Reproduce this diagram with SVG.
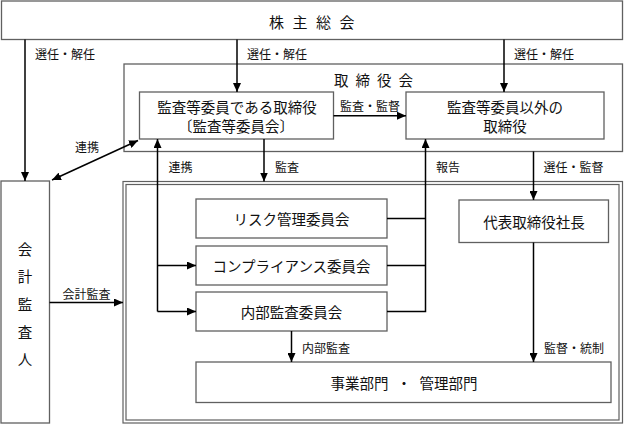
<svg xmlns="http://www.w3.org/2000/svg" width="624" height="424" viewBox="0 0 624 424">
<defs>
<style>
.box{fill:#fff;stroke:#606060;stroke-width:1.3}
.frame{fill:none;stroke:#606060;stroke-width:1.2}
.t{font-family:"Noto Sans CJK JP","Noto Sans CJK SC",sans-serif;font-size:14.5px;fill:#111;text-anchor:middle;dominant-baseline:central}
.s{font-family:"Noto Sans CJK JP","Noto Sans CJK SC",sans-serif;font-size:12px;fill:#111;dominant-baseline:central}
.c{fill:none;stroke:#000;stroke-width:1.5}
.a{marker-end:url(#ah)}
</style>
<marker id="ah" markerUnits="userSpaceOnUse" viewBox="0 0 9 8" markerWidth="9" markerHeight="8" refX="9" refY="4" orient="auto-start-reverse">
<path d="M0,0 L9,4 L0,8 z" fill="#000"/>
</marker>
</defs>
<rect x="0" y="0" width="624" height="424" fill="#fff"/>

<g id="shareholders">
<rect class="box" x="1.5" y="1" width="621" height="38.5"/>
<text class="t" x="316" y="21" style="font-size:15px;letter-spacing:8.5px">株主総会</text>
</g>

<g id="board">
<rect class="box" x="124" y="64" width="498.5" height="87.5"/>
<text class="t" x="377" y="79" style="letter-spacing:7px">取締役会</text>
</g>

<g id="audit-directors">
<rect class="box" x="139.5" y="92" width="194" height="47"/>
<text class="t" x="237" y="106">監査等委員である取締役</text>
<text class="t" x="236" y="125">〔監査等委員会〕</text>
</g>

<g id="other-directors">
<rect class="box" x="406" y="92" width="198" height="47"/>
<text class="t" x="505" y="106">監査等委員以外の</text>
<text class="t" x="505" y="125">取締役</text>
</g>

<g id="auditor">
<rect class="box" x="1" y="181" width="48.5" height="242"/>
<text class="t" x="25" y="248">会</text>
<text class="t" x="25" y="275.5">計</text>
<text class="t" x="25" y="303">監</text>
<text class="t" x="25" y="331">査</text>
<text class="t" x="25" y="358.5">人</text>
</g>

<g id="execution">
<rect class="frame" x="123" y="181.5" width="499.5" height="241.5"/>
<rect class="frame" x="126" y="184.5" width="493" height="235.5"/>
</g>

<g id="risk">
<rect class="box" x="196" y="199" width="191" height="39"/>
<text class="t" x="291.5" y="218.5">リスク管理委員会</text>
</g>

<g id="compliance">
<rect class="box" x="196" y="246" width="191" height="39"/>
<text class="t" x="291.5" y="265.5">コンプライアンス委員会</text>
</g>

<g id="internal-audit">
<rect class="box" x="196" y="292" width="191" height="39"/>
<text class="t" x="291.5" y="311.5">内部監査委員会</text>
</g>

<g id="president">
<rect class="box" x="459" y="200" width="149.5" height="42.5"/>
<text class="t" x="534" y="221">代表取締役社長</text>
</g>

<g id="departments">
<rect class="box" x="196" y="362" width="415" height="40.5"/>
<text class="t" x="404" y="382.5" style="word-spacing:5px">事業部門 ・ 管理部門</text>
</g>

<g id="connectors">
<path class="c a" d="M25,39.5 V181"/>
<path class="c a" d="M237,39.5 V92"/>
<path class="c a" d="M504,39.5 V92"/>
<path class="c a" d="M333.5,115.7 H406"/>
<path class="c a" d="M52,180 L138,140.5" style="marker-start:url(#ah)"/>
<path class="c a" d="M157.5,311.5 V139"/>
<path class="c a" d="M157.5,265.5 H196"/>
<path class="c a" d="M157.5,311.5 H196"/>
<path class="c a" d="M264,139 V181.5"/>
<path class="c" d="M387,218.5 H425.5 M387,265.5 H425.5"/>
<path class="c a" d="M387,311.5 H425.5 V139"/>
<path class="c a" d="M533.5,151.5 V200"/>
<path class="c a" d="M533.5,242.5 V362"/>
<path class="c a" d="M291.5,331 V362"/>
<path class="c a" d="M49.5,302.5 H123"/>
</g>

<g id="labels">
<text class="s" x="35" y="53">選任・解任</text>
<text class="s" x="247" y="53">選任・解任</text>
<text class="s" x="514" y="53">選任・解任</text>
<text class="s" x="340" y="105">監査・監督</text>
<text class="s" x="75" y="146.5">連携</text>
<text class="s" x="168.5" y="166">連携</text>
<text class="s" x="275" y="166">監査</text>
<text class="s" x="436" y="166">報告</text>
<text class="s" x="543.5" y="166">選任・監督</text>
<text class="s" x="62.5" y="293">会計監査</text>
<text class="s" x="302" y="347">内部監査</text>
<text class="s" x="544" y="347">監督・統制</text>
</g>
</svg>
